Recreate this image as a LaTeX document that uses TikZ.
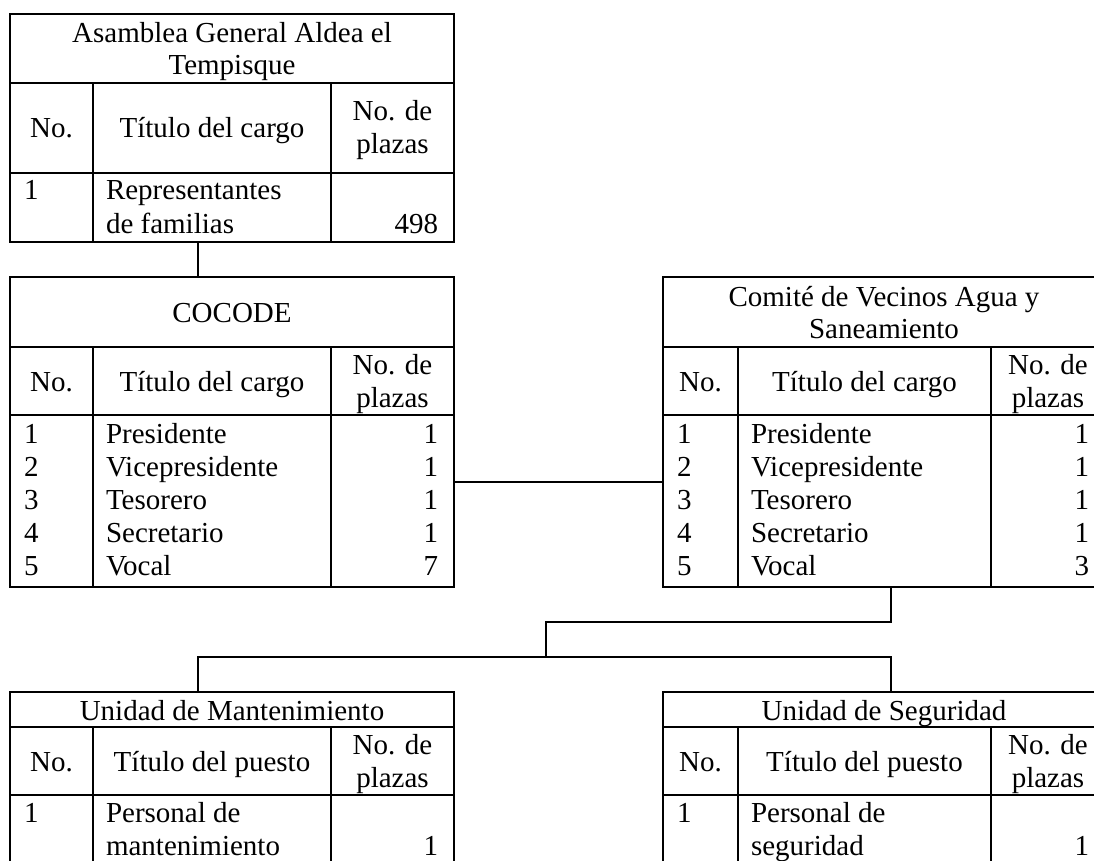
\documentclass[tikz,border=0pt]{standalone}
\usepackage{fontspec}
\setmainfont{Liberation Serif}
\begin{document}
\begin{tikzpicture}[x=1pt,y=-1pt,
  box/.style={draw, line width=1.3pt, inner sep=0pt, outer sep=0pt, anchor=north west},
  rule/.style={line width=1.3pt},
  link/.style={line width=1.2pt},
  txt/.style={inner sep=0pt, outer sep=0pt, font=\fontsize{29}{33}\selectfont},
  tc/.style={txt, anchor=base},
  tl/.style={txt, anchor=base west},
  tr/.style={txt, anchor=base east}]
\useasboundingbox (0,0) rectangle (1094,861);

% ---------- Table A: Asamblea ----------
\node[box, minimum width=444pt, minimum height=228pt] (asm) at (10,14) {};
\draw[rule] (10,83) -- (454,83);
\draw[rule] (10,173) -- (454,173);
\draw[rule] (93,83) -- (93,242);
\draw[rule] (331,83) -- (331,242);
\node[tc] (a1) at (232,43) {Asamblea General Aldea el};
\node[tc] (a2) at (232,75) {Tempisque};
\node[tc] (a3) at (51.5,138) {No.};
\node[tc] (a4) at (212,138) {Título del cargo};
\node[tc] (a5) at (392.5,121) {No. de};
\node[tc] (a6) at (392.5,154) {plazas};
\node[tl] (a7) at (24,200) {1};
\node[tl] (a8) at (106,200) {Representantes};
\node[tl] (a9) at (106,233) {de familias};
\node[tr] (a10) at (438,233) {498};

% ---------- Table B: COCODE ----------
\node[box, minimum width=444pt, minimum height=310pt] (cocode) at (10,277) {};
\draw[rule] (10,347) -- (454,347);
\draw[rule] (10,415) -- (454,415);
\draw[rule] (93,347) -- (93,587);
\draw[rule] (331,347) -- (331,587);
\node[tc] (b1) at (232,322) {COCODE};
\node[tc] (b2) at (51.5,391) {No.};
\node[tc] (b3) at (212,391) {Título del cargo};
\node[tc] (b4) at (392.5,374) {No. de};
\node[tc] (b5) at (392.5,407) {plazas};
\node[tl] (b6) at (24,443) {1};
\node[tl] (b7) at (24,476) {2};
\node[tl] (b8) at (24,509) {3};
\node[tl] (b9) at (24,542) {4};
\node[tl] (b10) at (24,575) {5};
\node[tl] (b11) at (106,443) {Presidente};
\node[tl] (b12) at (106,476) {Vicepresidente};
\node[tl] (b13) at (106,509) {Tesorero};
\node[tl] (b14) at (106,542) {Secretario};
\node[tl] (b15) at (106,575) {Vocal};
\node[tr] (b16) at (438,443) {1};
\node[tr] (b17) at (438,476) {1};
\node[tr] (b18) at (438,509) {1};
\node[tr] (b19) at (438,542) {1};
\node[tr] (b20) at (438,575) {7};

% ---------- Table C: Comite ----------
\node[box, minimum width=442pt, minimum height=310pt] (comite) at (663,277) {};
\draw[rule] (663,347) -- (1105,347);
\draw[rule] (663,415) -- (1105,415);
\draw[rule] (738,347) -- (738,587);
\draw[rule] (991,347) -- (991,587);
\node[tc] (c1) at (884,306) {Comité de Vecinos Agua y};
\node[tc] (c2) at (884,338) {Saneamiento};
\node[tc] (c3) at (700.5,391) {No.};
\node[tc] (c4) at (864.5,391) {Título del cargo};
\node[tc] (c5) at (1048,374) {No. de};
\node[tc] (c6) at (1048,407) {plazas};
\node[tl] (c7) at (677,443) {1};
\node[tl] (c8) at (677,476) {2};
\node[tl] (c9) at (677,509) {3};
\node[tl] (c10) at (677,542) {4};
\node[tl] (c11) at (677,575) {5};
\node[tl] (c12) at (751,443) {Presidente};
\node[tl] (c13) at (751,476) {Vicepresidente};
\node[tl] (c14) at (751,509) {Tesorero};
\node[tl] (c15) at (751,542) {Secretario};
\node[tl] (c16) at (751,575) {Vocal};
\node[tr] (c17) at (1089,443) {1};
\node[tr] (c18) at (1089,476) {1};
\node[tr] (c19) at (1089,509) {1};
\node[tr] (c20) at (1089,542) {1};
\node[tr] (c21) at (1089,575) {3};

% ---------- Table D: Mantenimiento ----------
\node[box, minimum width=444pt, minimum height=188pt] (mant) at (10,692) {};
\draw[rule] (10,727) -- (454,727);
\draw[rule] (10,795) -- (454,795);
\draw[rule] (93,727) -- (93,880);
\draw[rule] (331,727) -- (331,880);
\node[tc] (d1) at (232,720) {Unidad de Mantenimiento};
\node[tc] (d2) at (51.5,771) {No.};
\node[tc] (d3) at (212,771) {Título del puesto};
\node[tc] (d4) at (392.5,754) {No. de};
\node[tc] (d5) at (392.5,787) {plazas};
\node[tl] (d6) at (24,822) {1};
\node[tl] (d7) at (106,822) {Personal de};
\node[tl] (d8) at (106,855) {mantenimiento};
\node[tr] (d9) at (438,855) {1};

% ---------- Table E: Seguridad ----------
\node[box, minimum width=442pt, minimum height=188pt] (seg) at (663,692) {};
\draw[rule] (663,727) -- (1105,727);
\draw[rule] (663,795) -- (1105,795);
\draw[rule] (738,727) -- (738,880);
\draw[rule] (991,727) -- (991,880);
\node[tc] (e1) at (884,720) {Unidad de Seguridad};
\node[tc] (e2) at (700.5,771) {No.};
\node[tc] (e3) at (864.5,771) {Título del puesto};
\node[tc] (e4) at (1048,754) {No. de};
\node[tc] (e5) at (1048,787) {plazas};
\node[tl] (e6) at (677,822) {1};
\node[tl] (e7) at (751,822) {Personal de};
\node[tl] (e8) at (751,855) {seguridad};
\node[tr] (e9) at (1089,855) {1};

% ---------- Connectors ----------
\coordinate (asmOut) at (198,242);
\coordinate (cocodeIn) at (198,277);
\coordinate (cocodeR) at (454,482);
\coordinate (comiteL) at (663,482);
\coordinate (comiteOut) at (891,587);
\coordinate (k1) at (891,622);
\coordinate (k2) at (546,622);
\coordinate (k3) at (546,657);
\coordinate (k4) at (198,657);
\coordinate (k5) at (891,657);
\coordinate (mantIn) at (198,692);
\coordinate (segIn) at (891,692);

\draw[link] (asmOut) -- (cocodeIn);
\draw[link] (cocodeR) -- (comiteL);
\draw[link] (comiteOut) -- (k1) -- (k2) -- (k3);
\draw[link] (mantIn) -- (k4) -- (k5) -- (segIn);
\end{tikzpicture}
\end{document}
